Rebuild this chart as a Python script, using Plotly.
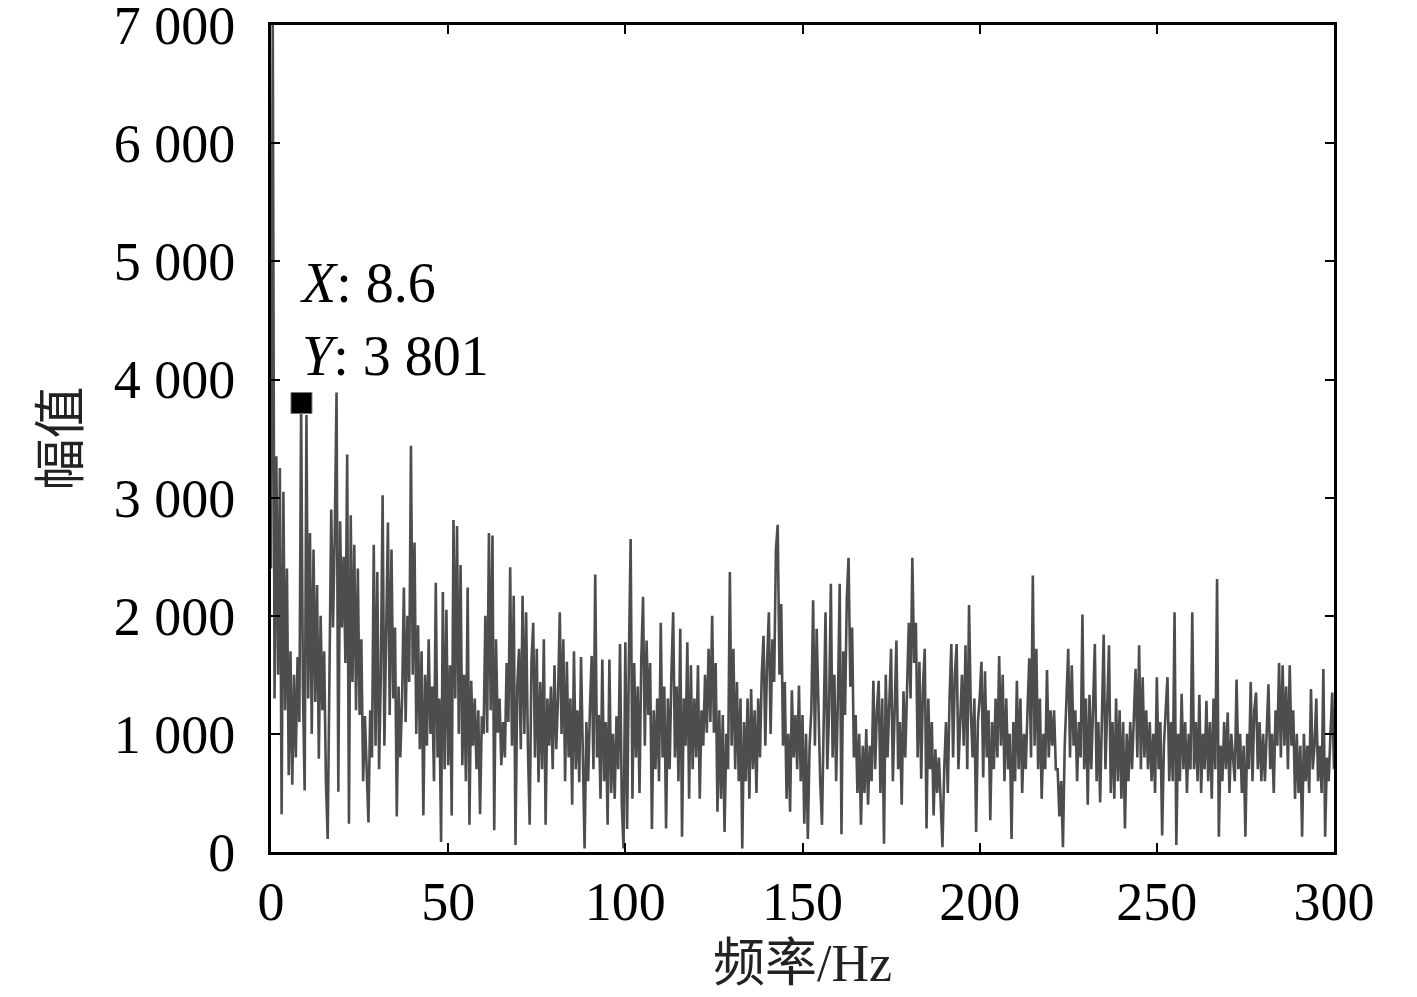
import plotly.graph_objects as go

# Amplitude spectrum, 0.5 Hz steps (0 - 300 Hz)
FREQ_STEP = 0.5

amp_0_50 = [
    2400, 7000, 1300, 3350, 1500, 3250, 320, 3050, 1200, 2400, 650, 1700, 570, 1500, 800, 1650, 1100, 3801, 1400, 520,
    3700, 1300, 2700, 1000, 2560, 1270, 2260, 790, 2000, 1200, 1700, 600, 110, 1400, 2900, 1900, 2700, 3890, 510, 2800,
    1900, 2500, 1600, 3365, 240, 2850, 1440, 2600, 1200, 2400, 1160, 1800, 600, 1150, 700, 250, 1200, 800, 2600, 900,
    2370, 700, 1500, 3020, 900, 2000, 2790, 1160, 2560, 1300, 1900, 300, 1400, 800, 1300, 2240, 1100, 2000, 1440, 3440,
    1500, 2620, 1000, 1920, 870, 1700, 310, 1500, 900, 1800, 1000, 1400, 600, 2280, 800, 1300, 85, 2200, 700, 2050,
]
amp_50_100 = [
    735, 1580, 310, 2810, 1300, 2760, 1000, 2430, 735, 1500, 600, 2240, 230, 1450, 900, 1300, 700, 1200, 320, 1150,
    1000, 2000, 1010, 2700, 1200, 2680, 185, 1800, 1010, 1300, 735, 1100, 800, 1600, 1100, 2410, 900, 2170, 60, 1400,
    1720, 870, 2170, 1000, 2030, 900, 230, 1600, 1940, 800, 1720, 590, 1440, 700, 1800, 230, 1300, 900, 1400, 700,
    1580, 870, 1300, 2030, 1000, 1800, 600, 1610, 800, 1300, 400, 1700, 700, 1200, 590, 1650, 800, 30, 1100, 600,
    1200, 1660, 700, 2350, 800, 1160, 450, 1630, 600, 1100, 230, 1630, 500, 1000, 450, 1150, 700, 1760, 400, 30,
]
amp_100_150 = [
    1775, 195, 1630, 2650, 450, 1600, 800, 1400, 500, 1630, 2160, 900, 1790, 1160, 1600, 195, 1200, 700, 1300, 600,
    1940, 800, 1400, 200, 1300, 700, 1500, 2030, 800, 1400, 600, 1890, 130, 1300, 900, 1775, 450, 1580, 700, 1300,
    800, 1580, 450, 1200, 900, 1500, 1010, 1720, 1100, 2000, 1010, 1600, 340, 1200, 450, 1160, 170, 1000, 700, 2370,
    900, 1720, 700, 1440, 600, 1300, 30, 1100, 600, 1300, 450, 1380, 700, 1200, 500, 1300, 800, 1500, 1830, 900,
    1600, 2030, 1000, 1800, 1440, 2560, 2770, 1500, 2100, 900, 1440, 450, 1000, 340, 1370, 800, 1160, 700, 1410, 600,
]
amp_150_200 = [
    1160, 240, 1000, 110, 900, 1200, 2130, 900, 1890, 1200, 600, 230, 1300, 2030, 700, 1200, 2270, 800, 1500, 600,
    1300, 2270, 150, 1700, 1160, 2140, 2490, 1400, 1900, 800, 1160, 500, 1000, 230, 900, 500, 1040, 400, 900, 600,
    1450, 700, 1200, 1450, 500, 1300, 70, 1500, 800, 1200, 1720, 600, 1200, 1790, 700, 1100, 400, 1360, 800, 1300,
    1940, 1300, 2490, 1600, 1940, 800, 1610, 620, 1400, 1720, 200, 1300, 700, 1100, 310, 870, 500, 800, 400, 40,
    700, 1100, 500, 1300, 1760, 800, 1500, 1760, 700, 1200, 1500, 900, 1750, 700, 2090, 1200, 800, 1300, 170, 1100,
]
amp_200_250 = [
    1300, 1610, 630, 1530, 800, 1200, 270, 1100, 700, 1300, 800, 1660, 900, 1500, 600, 1300, 700, 1000, 110, 1100,
    600, 1450, 700, 1300, 500, 1000, 700, 1200, 1640, 800, 2340, 900, 1720, 700, 1300, 450, 1000, 700, 1540, 800,
    1200, 900, 1200, 700, 700, 300, 600, 40, 900, 1300, 1720, 800, 1580, 900, 1200, 600, 1100, 800, 2010, 700,
    1300, 400, 1330, 700, 1200, 1760, 600, 1100, 420, 1300, 1840, 700, 1200, 1750, 500, 1100, 450, 1300, 600, 1200,
    450, 1100, 200, 1000, 600, 1100, 700, 1200, 1550, 800, 1750, 700, 1480, 800, 1200, 700, 1100, 600, 1000, 500,
]
amp_250_300 = [
    1480, 700, 1100, 140, 900, 1200, 1480, 600, 1100, 600, 2030, 60, 1000, 600, 1340, 700, 1100, 500, 1000, 700,
    2030, 700, 1100, 600, 1330, 500, 1000, 700, 1280, 600, 1100, 450, 1300, 700, 2310, 130, 900, 600, 1100, 700,
    1180, 500, 1000, 800, 600, 1460, 700, 1000, 500, 900, 130, 1000, 700, 1440, 600, 1200, 1350, 700, 1100, 600,
    1000, 600, 1100, 1420, 700, 1000, 500, 1200, 900, 1600, 800, 1580, 900, 1400, 700, 1580, 900, 1200, 450, 1000,
    500, 900, 130, 1000, 600, 900, 500, 1380, 700, 900, 1300, 600, 900, 500, 1550, 130, 800, 600, 1000, 1350,
    700,
]

peak_freq = [8.6]
peak_amp = [3801]

x_ticks = [0, 50, 100, 150, 200, 250, 300]
y_ticks = [0, 1000, 2000, 3000, 4000, 5000, 6000, 7000]

amp = amp_0_50 + amp_50_100 + amp_100_150 + amp_150_200 + amp_200_250 + amp_250_300
freq = [i * FREQ_STEP for i in range(len(amp))]

SERIF = "Liberation Serif, Times New Roman, Noto Sans CJK SC, serif"

fig = go.Figure()
fig.add_trace(go.Scatter(
    x=freq, y=amp, mode="lines",
    line=dict(color="#4d4d4d", width=2.6),
    showlegend=False, hoverinfo="skip",
))
fig.add_trace(go.Scatter(
    x=peak_freq, y=peak_amp, mode="markers",
    marker=dict(symbol="square", size=21, color="black",
                line=dict(color="#777777", width=1)),
    showlegend=False,
))
fig.add_annotation(
    x=peak_freq[0] - 0.9, y=3920, xref="x", yref="y",
    xanchor="left", yanchor="bottom", align="left", showarrow=False,
    text=f"<i>X</i>: {peak_freq[0]}<br><i>Y</i>: 3 801",
    font=dict(family=SERIF, size=56, color="black"),
)

axis_common = dict(
    showline=True, linecolor="black", linewidth=3, mirror="ticks",
    ticks="inside", ticklen=9, tickwidth=2, tickcolor="black",
    showgrid=False, zeroline=False, automargin=False,
    tickfont=dict(family=SERIF, size=54, color="black"),
)
fig.update_xaxes(
    range=[0, 300], tickvals=x_ticks,
    title=dict(text="频率/Hz", font=dict(family=SERIF, size=52, color="#222"), standoff=14),
    **axis_common,
)
fig.update_yaxes(
    range=[0, 7001], tickvals=y_ticks, separatethousands=True,
    ticklabelstandoff=22, ticklabeloverflow="allow",
    title=dict(text="幅值", font=dict(family=SERIF, size=52, color="#222"), standoff=18),
    **axis_common,
)
fig.update_layout(
    width=1417, height=997, separators=". ",
    paper_bgcolor="white", plot_bgcolor="white",
    margin=dict(l=263, r=91, t=17, b=153),
)
fig.write_html("out.html")
